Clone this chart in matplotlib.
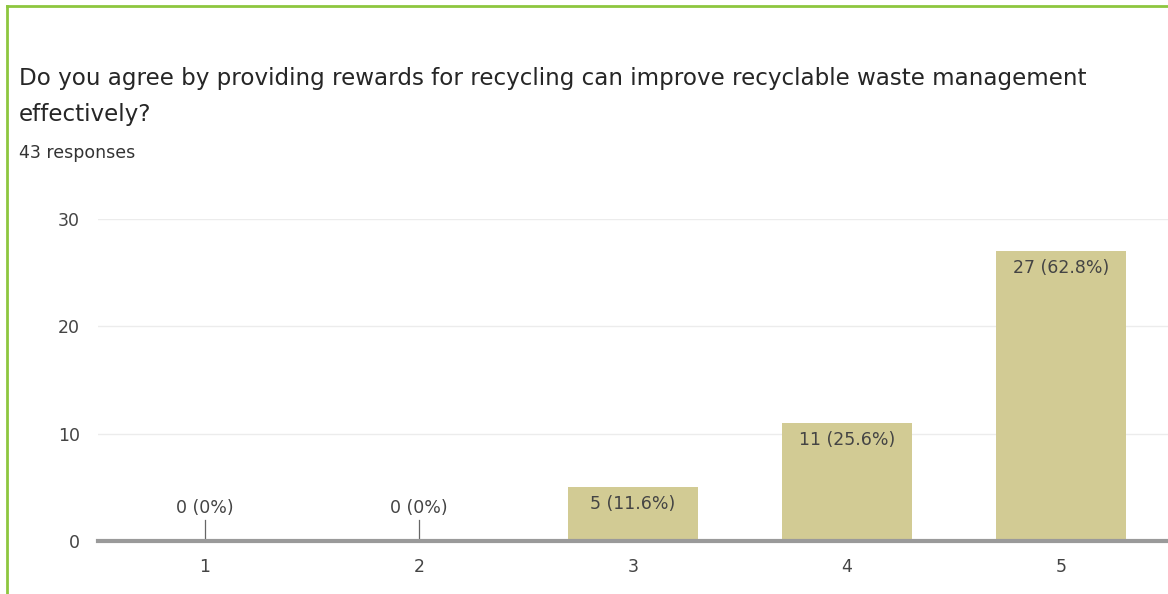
import matplotlib.pyplot as plt
from matplotlib.lines import Line2D

plt.rcParams['font.family'] = ['DejaVu Sans']

question = ("Do you agree by providing rewards for recycling can improve recyclable waste management\n"
            "effectively?")
n_responses = 43
ratings = [1, 2, 3, 4, 5]
counts = [0, 0, 5, 11, 27]
pct_labels = ["0%", "0%", "11.6%", "25.6%", "62.8%"]
yticks = [0, 10, 20, 30]

bar_color = "#d2cb94"
text_color = "#444444"

fig = plt.figure(figsize=(11.68, 5.94), dpi=100)
ax = fig.add_axes([98 / 1168, 1 - 541 / 594, 1 - 98 / 1168, (541 - 219) / 594])

ax.bar(ratings, counts, width=0.61, color=bar_color, zorder=2)
ax.set_xlim(0.5, 5.5)
ax.set_ylim(0, 30)

for x, c, p in zip(ratings, counts, pct_labels):
    label = f"{c} ({p})"
    if c == 0:
        # little stem marking the empty category
        ax.plot([x, x], [0, 2.0], color="#666666", lw=0.9, zorder=3)
        ax.annotate(label, (x, 0), xytext=(0, 24), textcoords="offset points",
                    ha="center", va="center", fontsize=12.5, color=text_color)
    else:
        ax.annotate(label, (x, c), xytext=(0, -12), textcoords="offset points",
                    ha="center", va="center", fontsize=12.5, color=text_color)

ax.set_yticks(yticks)
ax.set_xticks(ratings)
ax.tick_params(axis="both", length=0, labelsize=12.5, labelcolor=text_color)
ax.tick_params(axis="y", pad=13)
ax.tick_params(axis="x", pad=12)
ax.grid(axis="y", color="#ececec", lw=1, zorder=0)
for s in ax.spines.values():
    s.set_visible(False)
ax.axhline(0, color="#9a9a9a", lw=3, zorder=4, clip_on=False)

title_lines = question.split("\n")
fig.text(19 / 1168, 1 - 78 / 594, title_lines[0], ha="left", va="center",
         fontsize=16.6, color="#262626")
fig.text(19 / 1168, 1 - 115 / 594, title_lines[1], ha="left", va="center",
         fontsize=16.6, color="#262626")
fig.text(19 / 1168, 1 - 153 / 594, f"{n_responses} responses", ha="left", va="center",
         fontsize=12.5, color="#333333")

# green card border on the left and top
border = "#8dc63f"
fig.add_artist(Line2D([7 / 1168, 7 / 1168], [0, 1 - 6 / 594], transform=fig.transFigure,
                      color=border, lw=2))
fig.add_artist(Line2D([7 / 1168, 1], [1 - 6 / 594, 1 - 6 / 594], transform=fig.transFigure,
                      color=border, lw=2))

fig.savefig("out.png", dpi=100)
